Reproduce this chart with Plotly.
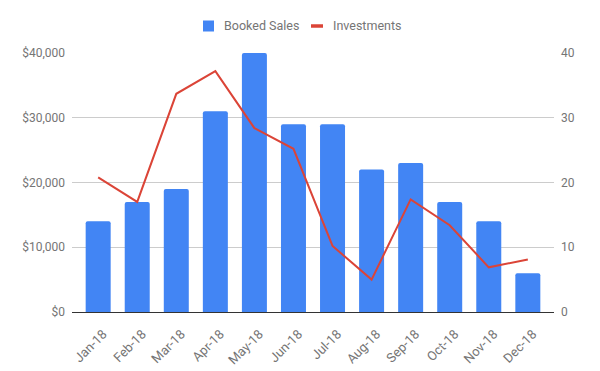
import plotly.graph_objects as go

months = ["Jan-18", "Feb-18", "Mar-18", "Apr-18", "May-18", "Jun-18",
          "Jul-18", "Aug-18", "Sep-18", "Oct-18", "Nov-18", "Dec-18"]
booked_sales = [14000, 17000, 19000, 31000, 40000, 29000,
                29000, 22000, 23000, 17000, 14000, 6000]
investments = [20.8, 17.0, 33.7, 37.2, 28.4, 25.2,
               10.2, 5.0, 17.4, 13.4, 6.9, 8.1]
left_ticks = [0, 10000, 20000, 30000, 40000]
left_tick_text = ["$0", "$10,000", "$20,000", "$30,000", "$40,000"]
right_ticks = [0, 10, 20, 30, 40]
series_names = ["Booked Sales", "Investments"]

FONT = "Roboto, Arial, sans-serif"
GRAY = "#757575"
BLUE = "#4285f4"
RED = "#db4437"

fig = go.Figure()
fig.add_trace(go.Bar(
    x=months, y=booked_sales, name=series_names[0],
    marker=dict(color=BLUE, line=dict(width=0), cornerradius=2),
    yaxis="y",
))
fig.add_trace(go.Scatter(
    x=months, y=investments, name=series_names[1], mode="lines",
    line=dict(color=RED, width=2),
    yaxis="y2",
))

# custom legend (keeps the plot area from being pushed down)
PL, PW, PB, PH = 72, 482, 312, 259
def px(x):
    return (x - PL) / PW
def py(y):
    return (PB - y) / PH

shapes = [
    dict(type="rect", xref="paper", yref="paper",
         x0=px(203), x1=px(214), y0=py(31.5), y1=py(20.5),
         fillcolor=BLUE, line=dict(width=0)),
    dict(type="line", xref="paper", yref="paper",
         x0=px(311), x1=px(323), y0=py(26), y1=py(26),
         line=dict(color=RED, width=3.5)),
]
annotations = [
    dict(text=series_names[0], xref="paper", yref="paper", x=px(222), y=py(26),
         xanchor="left", yanchor="middle", showarrow=False,
         font=dict(family=FONT, size=12.5, color=GRAY)),
    dict(text=series_names[1], xref="paper", yref="paper", x=px(331), y=py(26),
         xanchor="left", yanchor="middle", showarrow=False,
         font=dict(family=FONT, size=12.5, color=GRAY)),
]

fig.update_layout(
    width=600, height=371,
    margin=dict(l=PL, r=600 - PL - PW, t=PB - PH, b=371 - PB),
    paper_bgcolor="white", plot_bgcolor="white",
    font=dict(family=FONT, size=12, color=GRAY),
    bargap=0.36,
    showlegend=False,
    shapes=shapes,
    annotations=annotations,
    xaxis=dict(
        type="category", range=[-0.67, 11.67], automargin=False,
        tickangle=-45, showgrid=False, showline=False, zeroline=False,
        ticks="", ticklabelstandoff=11, ticklabelshift=5,
        tickfont=dict(family=FONT, size=13, color=GRAY),
    ),
    yaxis=dict(
        range=[0, 40000], tickvals=left_ticks, ticktext=left_tick_text,
        showgrid=True, gridcolor="#cccccc", gridwidth=1, automargin=False,
        zeroline=True, zerolinecolor="#333333", zerolinewidth=1,
        showline=False, ticks="", ticklabelstandoff=6,
        tickfont=dict(family=FONT, size=12, color=GRAY),
    ),
    yaxis2=dict(
        range=[0, 40], tickvals=right_ticks, overlaying="y", side="right",
        showgrid=False, zeroline=False, showline=False, ticks="",
        ticklabelstandoff=6, automargin=False,
        tickfont=dict(family=FONT, size=12, color=GRAY),
    ),
)

fig.write_html("out.html")
